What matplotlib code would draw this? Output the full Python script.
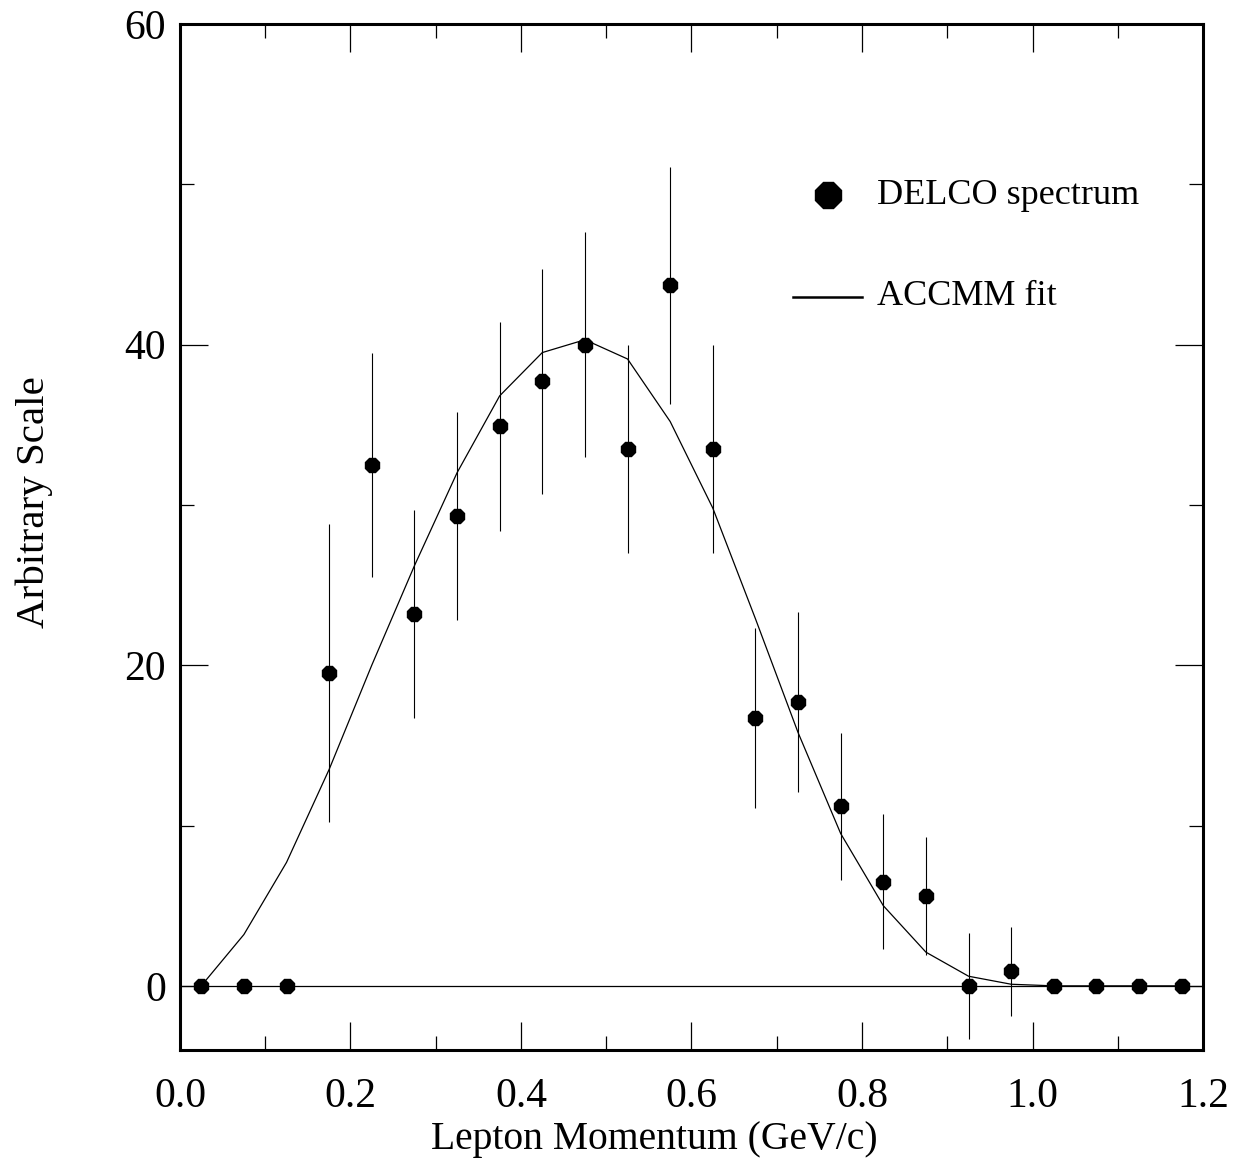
import matplotlib.pyplot as plt
import numpy as np

plt.rcParams['font.family'] = ['Liberation Serif', 'DejaVu Serif']

# bin centres (GeV/c)
momentum = [0.025, 0.075, 0.125, 0.175, 0.225, 0.275, 0.325, 0.375, 0.425, 0.475,
            0.525, 0.575, 0.625, 0.675, 0.725, 0.775, 0.825, 0.875, 0.925, 0.975,
            1.025, 1.075, 1.125, 1.175]

delco = [0.0, 0.0, 0.0, 19.5, 32.5, 23.2, 29.3, 34.9, 37.7, 40.0,
         33.5, 43.7, 33.5, 16.7, 17.7, 11.2, 6.5, 5.6, 0.0, 0.9,
         0.0, 0.0, 0.0, 0.0]
delco_err = [0.0, 0.0, 0.0, 9.3, 7.0, 6.5, 6.5, 6.5, 7.0, 7.0,
             6.5, 7.4, 6.5, 5.6, 5.6, 4.6, 4.2, 3.7, 3.3, 2.8,
             0.0, 0.0, 0.0, 0.0]

accmm = [0.0, 3.2, 7.7, 13.5, 20.0, 26.2, 32.0, 36.8, 39.5, 40.3,
         39.1, 35.2, 29.8, 22.9, 15.8, 9.5, 5.0, 2.1, 0.6, 0.1,
         0.0, 0.0, 0.0, 0.0]

fig = plt.figure(figsize=(12.41, 11.66), dpi=100)
ax = fig.add_axes([0.145, 0.0995, 0.8244, 0.88])

ax.axhline(0, color='black', lw=0.9)
ax.plot(momentum, accmm, color='black', lw=0.9)

err = np.array(delco_err)
has_err = err > 0
ax.errorbar(np.array(momentum)[has_err], np.array(delco)[has_err], yerr=err[has_err],
            fmt='none', ecolor='black', elinewidth=0.8, capsize=0)
ax.plot(momentum, delco, ls='none', marker='8', ms=11, color='black')

ax.set_xlim(0, 1.2)
ax.set_ylim(-4, 60)
ax.set_xticks(np.arange(0, 1.21, 0.2))
ax.set_xticks(np.arange(0.1, 1.2, 0.2), minor=True)
ax.set_yticks([0, 20, 40, 60])
ax.set_yticks([10, 30, 50], minor=True)
ax.set_xticklabels([f"{v:.1f}" for v in np.arange(0, 1.21, 0.2)])

ax.tick_params(which='both', direction='in', top=True, right=True, width=0.9)
ax.tick_params(which='major', length=20, labelsize=30)
ax.tick_params(which='minor', length=10)
ax.tick_params(axis='x', which='major', pad=20)
ax.tick_params(axis='y', which='major', pad=10)
for s in ax.spines.values():
    s.set_linewidth(2.2)

ax.set_xlabel('Lepton Momentum (GeV/c)', fontsize=28.5, va='center')
ax.set_ylabel('Arbitrary Scale', fontsize=29.5, va='center')
ax.xaxis.set_label_coords(0.464, -0.0877)
ax.yaxis.set_label_coords(-0.142, 0.534)

# legend keys
ax.plot([0.633], [0.833], transform=ax.transAxes, marker='8', ms=20,
        color='black', ls='none', clip_on=False)
ax.text(0.681, 0.833, 'DELCO spectrum', transform=ax.transAxes,
        fontsize=26, va='center', ha='left')
ax.plot([0.599, 0.667], [0.734, 0.734], transform=ax.transAxes,
        color='black', lw=1.8)
ax.text(0.681, 0.734, 'ACCMM fit', transform=ax.transAxes,
        fontsize=26, va='center', ha='left')

fig.savefig('out.png', dpi=100)
